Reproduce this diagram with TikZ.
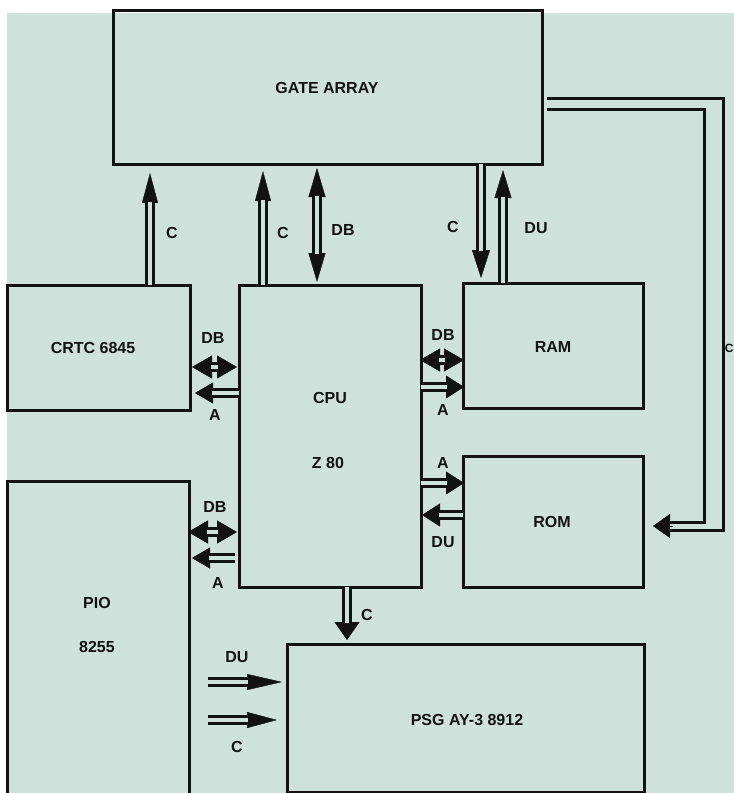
\documentclass[tikz,border=0pt]{standalone}
\usepackage{fontspec}
\setmainfont{Liberation Sans}
\usetikzlibrary{arrows.meta,calc}
\definecolor{bgc}{RGB}{206,226,219}
\definecolor{ink}{RGB}{18,18,18}
\tikzset{
  box/.style={draw=ink, line width=3pt, rectangle, outer sep=0pt, inner sep=0pt, anchor=north west},
  lbl/.style={font=\bfseries\fontsize{16}{16}\selectfont, text=ink, inner sep=0pt},
  shaft/.style={draw=ink, line width=3pt, double=bgc, double distance=3.6pt},
  thinhead/.style={draw=ink, line width=0.4pt},
  wire/.style={draw=ink, line width=3pt, line join=miter}
}
% one-headed bus arrow: length, width, from, to, shorten
\newcommand\busone[5]{%
  \draw[thinhead, -{Triangle[length=#1pt,width=#2pt]}] (#3) -- (#4);
  \draw[shaft, shorten >=#5pt] (#3) -- (#4);}
% two-headed bus arrow
\newcommand\bustwo[5]{%
  \draw[thinhead, {Triangle[length=#1pt,width=#2pt]}-{Triangle[length=#1pt,width=#2pt]}] (#3) -- (#4);
  \draw[shaft, shorten >=#5pt, shorten <=#5pt] (#3) -- (#4);}
\begin{document}
\begin{tikzpicture}[x=1pt,y=-1pt]
\useasboundingbox (0,0) rectangle (734,793);
\fill[bgc] (7,13) rectangle (734,793);

% boxes
\node[box, minimum width=429pt, minimum height=154pt] (ga) at (113,10) {};
\node[box, minimum width=183pt, minimum height=125pt] (crtc) at (7,285) {};
\node[box, minimum width=182pt, minimum height=302pt] (cpu) at (239,285) {};
\node[box, minimum width=180pt, minimum height=125pt] (ram) at (463,283) {};
\node[box, minimum width=180pt, minimum height=131pt] (rom) at (463,456) {};
\node[box, minimum width=182pt, minimum height=330pt] (pio) at (7,481) {};
\node[box, minimum width=357pt, minimum height=148pt] (psg) at (287,644) {};

% box texts
\node[lbl] (tga) at (327,88) {GATE ARRAY};
\node[lbl] (tcrtc) at (93,348) {CRTC 6845};
\node[lbl] (tram) at (553,347) {RAM};
\node[lbl] (tcpu) at (330,398) {CPU};
\node[lbl] (tz) at (328,463) {Z 80};
\node[lbl] (trom) at (552,522) {ROM};
\node[lbl] (tpio) at (97,603) {PIO};
\node[lbl] (t8255) at (97,647) {8255};
\node[lbl] (tpsg) at (467,720) {PSG AY-3 8912};

% connector end points
\coordinate (a1s) at ($(crtc.north west)+(143,0)$);
\coordinate (a1e) at ($(ga.south west)+(37,9)$);
\coordinate (a2s) at ($(cpu.north west)+(24,0)$);
\coordinate (a2e) at ($(ga.south west)+(150,7)$);
\coordinate (a3s) at ($(ga.south west)+(204,4)$);
\coordinate (a3e) at ($(cpu.north west)+(78,-3)$);
\coordinate (a4s) at ($(ga.south west)+(368,0)$);
\coordinate (a4e) at ($(ram.north west)+(18,-5)$);
\coordinate (a5s) at ($(ram.north west)+(40,0)$);
\coordinate (a5e) at ($(ga.south west)+(390,6)$);
\coordinate (a6s) at ($(crtc.north east)+(2,82)$);
\coordinate (a6e) at ($(cpu.north west)+(-2,82)$);
\coordinate (a7s) at ($(cpu.north west)+(0,108)$);
\coordinate (a7e) at ($(crtc.north east)+(5,108)$);
\coordinate (a8s) at ($(cpu.north east)+(-1,75)$);
\coordinate (a8e) at ($(ram.north west)+(1,77)$);
\coordinate (a9s) at ($(cpu.north east)+(0,102)$);
\coordinate (a9e) at ($(ram.north west)+(1,104)$);
\coordinate (a10s) at ($(cpu.north east)+(0,198)$);
\coordinate (a10e) at ($(rom.north west)+(1,27)$);
\coordinate (a11s) at ($(rom.north west)+(0,59)$);
\coordinate (a11e) at ($(cpu.north east)+(1,230)$);
\coordinate (a12s) at ($(pio.north east)+(-1,51)$);
\coordinate (a12e) at ($(cpu.north west)+(-2,247)$);
\coordinate (a13s) at ($(cpu.north west)+(-4,273)$);
\coordinate (a13e) at ($(pio.north east)+(3,77)$);
\coordinate (a14s) at ($(cpu.south west)+(108,0)$);
\coordinate (a14e) at ($(psg.north west)+(60,-4)$);
\coordinate (a15s) at ($(pio.north east)+(19,201)$);
\coordinate (a15e) at ($(psg.north west)+(-5,38)$);
\coordinate (a16s) at ($(pio.north east)+(19,239)$);
\coordinate (a16e) at ($(psg.north west)+(-10,76)$);

% vertical buses
\busone{30}{16}{a1s}{a1e}{29}
\busone{30}{16}{a2s}{a2e}{29}
\bustwo{29}{17}{a3s}{a3e}{28}
\busone{28}{18}{a4s}{a4e}{27}
\busone{28}{17}{a5s}{a5e}{27}
\busone{18}{25}{a14s}{a14e}{17}
% horizontal buses
\bustwo{20}{23}{a6s}{a6e}{19}
\busone{18}{21}{a7s}{a7e}{17}
\bustwo{20}{23}{a8s}{a8e}{19}
\busone{18}{23}{a9s}{a9e}{17}
\busone{18}{23}{a10s}{a10e}{17}
\busone{18}{23}{a11s}{a11e}{17}
\bustwo{20}{23}{a12s}{a12e}{19}
\busone{18}{21}{a13s}{a13e}{17}
\busone{35}{16}{a15s}{a15e}{34}
\busone{30}{16}{a16s}{a16e}{29}

% right-hand C bus from gate array to ROM
\coordinate (r1) at ($(ga.north east)+(5,88)$);
\coordinate (r2) at ($(ga.north east)+(181,88)$);
\coordinate (r3) at ($(rom.north east)+(80,74)$);
\coordinate (r4) at ($(rom.north east)+(25,74)$);
\coordinate (s1) at ($(ga.north east)+(5,99)$);
\coordinate (s2) at ($(ga.north east)+(162,99)$);
\coordinate (s3) at ($(rom.north east)+(61,66)$);
\coordinate (s4) at ($(rom.north east)+(25,66)$);
\coordinate (h1) at ($(rom.north east)+(30,70)$);
\coordinate (h2) at ($(rom.north east)+(10,70)$);
\draw[wire] (r1) -- (r2) -- (r3) -- (r4);
\draw[wire] (s1) -- (s2) -- (s3) -- (s4);
\draw[thinhead, -{Triangle[length=17pt,width=24pt]}] (h1) -- (h2);

% bus labels
\node[lbl] (l1) at (172,233) {C};
\node[lbl] (l2) at (283,233) {C};
\node[lbl] (l3) at (343,230) {DB};
\node[lbl] (l4) at (453,227) {C};
\node[lbl] (l5) at (536,228) {DU};
\node[lbl] (l6) at (213,338) {DB};
\node[lbl] (l7) at (215,415) {A};
\node[lbl] (l8) at (443,335) {DB};
\node[lbl] (l9) at (443,410) {A};
\node[lbl] (l10) at (443,463) {A};
\node[lbl] (l11) at (443,542) {DU};
\node[lbl] (l12) at (215,507) {DB};
\node[lbl] (l13) at (218,583) {A};
\node[lbl] (l14) at (367,615) {C};
\node[lbl] (l15) at (237,657) {DU};
\node[lbl] (l16) at (237,747) {C};
\node[lbl, font=\bfseries\fontsize{12}{12}\selectfont, anchor=east] (l17) at (733.8,348) {C};
\end{tikzpicture}
\end{document}
